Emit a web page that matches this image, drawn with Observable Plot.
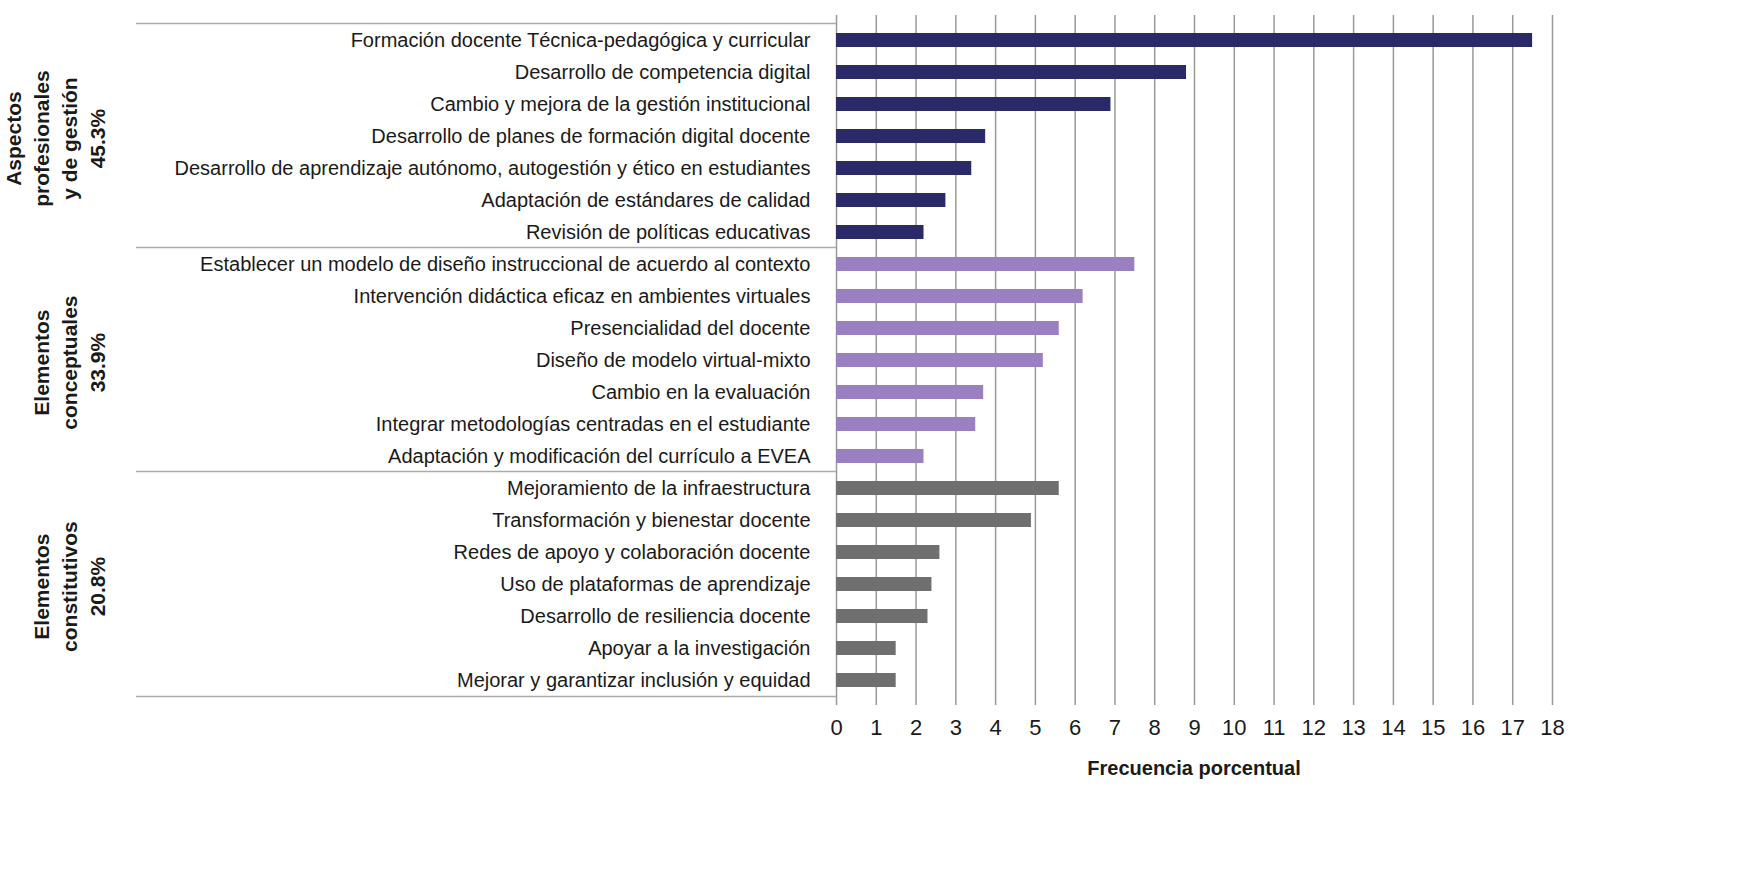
<!DOCTYPE html>
<html><head><meta charset="utf-8">
<script src="https://cdn.jsdelivr.net/npm/d3@7"></script>
<script src="https://cdn.jsdelivr.net/npm/@observablehq/plot@0.6"></script>
<style>body{margin:0;background:#fff}</style>
</head><body><div id="c"></div>
<script>
const categories = [
"Formación docente Técnica-pedagógica y curricular","Desarrollo de competencia digital","Cambio y mejora de la gestión institucional","Desarrollo de planes de formación digital docente","Desarrollo de aprendizaje autónomo, autogestión y ético en estudiantes","Adaptación de estándares de calidad","Revisión de políticas educativas",
"Establecer un modelo de diseño instruccional de acuerdo al contexto","Intervención didáctica eficaz en ambientes virtuales","Presencialidad del docente","Diseño de modelo virtual-mixto","Cambio en la evaluación","Integrar metodologías centradas en el estudiante","Adaptación y modificación del currículo a EVEA",
"Mejoramiento de la infraestructura","Transformación y bienestar docente","Redes de apoyo y colaboración docente","Uso de plataformas de aprendizaje","Desarrollo de resiliencia docente","Apoyar a la investigación","Mejorar y garantizar inclusión y equidad"];
const values = [17.5,8.8,6.9,3.75,3.4,2.75,2.2, 7.5,6.2,5.6,5.2,3.7,3.5,2.2, 5.6,4.9,2.6,2.4,2.3,1.5,1.5];
const groupIdx = [0,0,0,0,0,0,0,1,1,1,1,1,1,1,2,2,2,2,2,2,2];
const groupLabels = [["Aspectos","profesionales","y de gestión","45.3%"],["Elementos","conceptuales","33.9%"],["Elementos","constitutivos","20.8%"]];
const groupColors = ["#2b2a69","#9a80c0","#6f6f6f"];
const xTicks = d3.range(0,19);
const data = categories.map((c,i)=>({c,v:values[i],g:groupIdx[i]}));
const F = "'Liberation Sans', Arial, sans-serif";
const chart = Plot.plot({
  width:1764,height:790,marginLeft:836,marginRight:212,marginTop:15,marginBottom:85,
  style:{fontFamily:F,fontSize:"20px",color:"#1a1a1a"},
  x:{domain:[0,18],ticks:xTicks,tickSize:0,tickPadding:14,label:null,tickFormat:d=>d},
  y:{domain:categories,paddingInner:0.57,paddingOuter:0.285,label:null,tickSize:0,tickPadding:26},
  color:{domain:[0,1,2],range:groupColors},
  marks:[
    Plot.ruleX(xTicks,{stroke:"#999",strokeWidth:1.5}),
    Plot.barX(data,{y:"c",x:"v",fill:d=>d.g})
  ]
});
document.getElementById("c").appendChild(chart);
const svg = d3.select(chart);
svg.selectAll("[aria-label='x-axis tick label'] text").style("font-size","22px");
const y = chart.scale("y");
const step = (y.range[1]-y.range[0])/categories.length;
const gap = (step - y.bandwidth)/2;
[0,7,14,21].forEach(s=>{
  const yy = s<21 ? y.apply(categories[s]) - gap : y.apply(categories[20]) + y.bandwidth + gap;
  svg.append("line").attr("x1",136).attr("x2",836).attr("y1",yy).attr("y2",yy).attr("stroke","#aaa").attr("stroke-width",1.5);
});
groupLabels.forEach((lines,g)=>{
  const a = y.apply(categories[g*7]) - gap;
  const cy = a + step*3.5;
  lines.forEach((t,i)=>{
    const x = 105 - (lines.length-1-i)*28;
    svg.append("text").attr("transform",`translate(${x},${cy}) rotate(-90)`).attr("text-anchor","middle")
      .attr("font-family",F).attr("font-weight","bold").attr("font-size","21px").attr("fill","#1a1a1a").text(t);
  });
});
svg.append("text").attr("x",(836+1552)/2).attr("y",775).attr("text-anchor","middle").attr("font-family",F)
  .attr("font-weight","bold").attr("font-size","20px").attr("fill","#1a1a1a").text("Frecuencia porcentual");
</script></body></html>
